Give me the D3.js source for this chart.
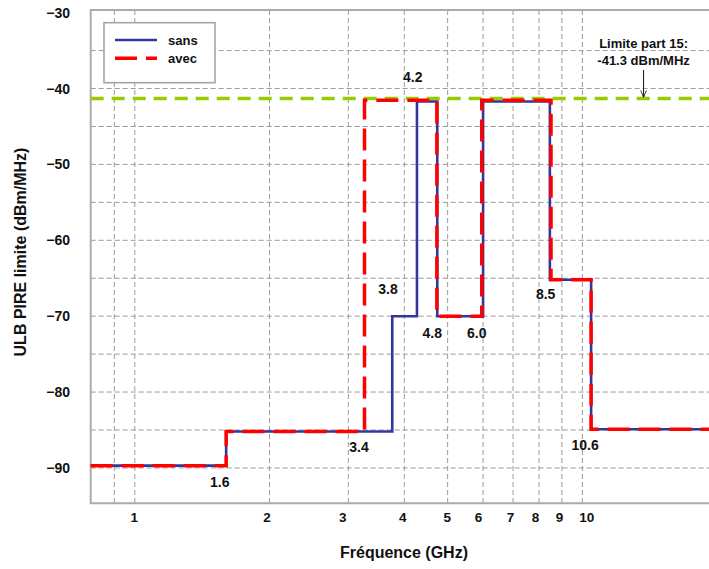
<!DOCTYPE html>
<html><head><meta charset="utf-8">
<script src="https://cdn.jsdelivr.net/npm/d3@7/dist/d3.min.js"></script>
<style>
body{margin:0;background:#fff}
text{font-family:"Liberation Sans",Arial,sans-serif;font-weight:bold;fill:#111}
</style>
</head><body>
<svg id="chart" width="709" height="569"></svg>
<script>
// ---------- data ----------
const freqDomain = [0.797, 20.3];            // GHz (log axis)
const levelDomain = [-94.66, -29.65];        // dBm/MHz
const freqTicks = [1, 2, 3, 4, 5, 6, 7, 8, 9, 10];
const freqGrid = [0.9, 1, 2, 3, 4, 5, 6, 7, 8, 9, 10];
const levelTicks = [-30, -40, -50, -60, -70, -80, -90];
const levelGrid = [-35, -40, -45, -50, -55, -60, -65, -70, -75, -80, -85, -90];

// step edges (GHz) and levels (dBm/MHz)
const sansEdges  = [0.797, 1.6, 3.76, 4.27, 4.74, 6.0, 8.46, 10.46, 20.3];
const sansLevels = [-89.7, -85.2, -70, -41.7, -70, -41.7, -65.2, -84.9];
const avecEdges  = [0.797, 1.6, 3.26, 4.73, 5.96, 8.51, 10.46, 20.3];
const avecLevels = [-89.7, -85.2, -41.55, -70, -41.55, -65.2, -84.9];

const limitLevel = -41.3;
const seriesNames = ["sans", "avec"];

const edgeLabelText  = ["1.6", "3.4", "3.8", "4.2", "4.8", "6.0", "8.5", "10.6"];
const edgeLabelFreq  = [1.548, 3.17, 3.678, 4.18, 4.62, 5.81, 8.28, 10.14];
const edgeLabelLevel = [-91.8, -87.2, -66.45, -38.5, -72.2, -72.2, -67.1, -86.97];

const limitNote = ["Limite part 15:", "-41.3 dBm/MHz"];
const limitNoteFreq = 13.7;
const limitNoteLevel = [-34.04, -36.33];
const arrowFromLevel = -37.56;

// ---------- layout ----------
const svg = d3.select("#chart");
const plotLeft = 90.7, plotTop = 10, plotBottom = 503.3, plotRight = 720;
// small hand-placement offsets of the x tick labels in the original figure (px)
const xLabelNudge = [-1, -3, -6, -2, -1, -5, -3, -4, -3, 4];

const x = d3.scaleLog().domain(freqDomain).range([plotLeft, plotRight]);
const y = d3.scaleLinear().domain(levelDomain).range([plotBottom, plotTop]);

svg.append("rect").attr("width", 709).attr("height", 569).attr("fill", "#fff");

// grid
const grid = svg.append("g").attr("stroke", "#9a9a9a").attr("stroke-width", 1)
  .attr("stroke-dasharray", "5,3").attr("fill", "none");
grid.selectAll("line.h").data(levelGrid).join("line").attr("class", "h")
  .attr("x1", plotLeft).attr("x2", plotRight)
  .attr("y1", d => y(d)).attr("y2", d => y(d));
grid.selectAll("line.v").data(freqGrid).join("line").attr("class", "v")
  .attr("x1", d => x(d)).attr("x2", d => x(d))
  .attr("y1", plotTop).attr("y2", plotBottom);

// frame
svg.append("path")
  .attr("d", `M${plotRight},${plotTop}H${plotLeft}V${plotBottom}H${plotRight}`)
  .attr("fill", "none").attr("stroke", "#ababab").attr("stroke-width", 2);

// limit line
svg.append("line")
  .attr("x1", plotLeft).attr("x2", plotRight)
  .attr("y1", y(limitLevel)).attr("y2", y(limitLevel))
  .attr("stroke", "#99cc00").attr("stroke-width", 3.5).attr("stroke-dasharray", "13,8");

// step lines
function stepPoints(edges, levels) {
  return edges.map((e, i) => [e, levels[Math.min(i, levels.length - 1)]]);
}
const line = d3.line().x(d => x(d[0])).y(d => y(d[1])).curve(d3.curveStepAfter);

svg.append("path").datum(stepPoints(sansEdges, sansLevels))
  .attr("d", line).attr("fill", "none")
  .attr("stroke", "#35359c").attr("stroke-width", 2.6);
svg.append("path").datum(stepPoints(avecEdges, avecLevels))
  .attr("d", line).attr("fill", "none")
  .attr("stroke", "#ff0000").attr("stroke-width", 3.5).attr("stroke-dasharray", "22,9");

// axes
const xAxis = svg.append("g").attr("transform", `translate(0,${plotBottom})`)
  .call(d3.axisBottom(x).tickValues(freqTicks).tickFormat(d3.format("d")).tickSize(0).tickPadding(9.5));
xAxis.select(".domain").remove();
xAxis.selectAll("text").attr("font-size", 13.5).attr("font-family", null).style("fill", "#111")
  .attr("dx", (d, i) => xLabelNudge[i]);

const yAxis = svg.append("g").attr("transform", `translate(${plotLeft},0)`)
  .call(d3.axisLeft(y).tickValues(levelTicks).tickFormat(d3.format("d")).tickSize(0).tickPadding(20.7));
yAxis.select(".domain").remove();
yAxis.selectAll("text").attr("font-size", 14).attr("font-family", null).style("fill", "#111");

// axis titles
svg.append("text").attr("x", 404).attr("y", 558).attr("text-anchor", "middle")
  .attr("font-size", 16).text("Fréquence (GHz)");
svg.append("text").attr("transform", "translate(26,252) rotate(-90)")
  .attr("text-anchor", "middle").attr("font-size", 16).text("ULB PIRE limite (dBm/MHz)");

// edge labels
svg.selectAll("text.edge").data(edgeLabelText).join("text").attr("class", "edge")
  .attr("x", (d, i) => x(edgeLabelFreq[i]))
  .attr("y", (d, i) => y(edgeLabelLevel[i]) + 5)
  .attr("text-anchor", "middle").attr("font-size", 14).text(d => d);

// limit note + arrow
svg.selectAll("text.note").data(limitNote).join("text").attr("class", "note")
  .attr("x", x(limitNoteFreq)).attr("y", (d, i) => y(limitNoteLevel[i]) + 4.5)
  .attr("text-anchor", "middle").attr("font-size", 13).text(d => d);

const defs = svg.append("defs");
defs.append("marker").attr("id", "arr").attr("viewBox", "0 0 10 10")
  .attr("refX", 10).attr("refY", 5).attr("markerWidth", 7).attr("markerHeight", 7)
  .attr("orient", "auto").attr("markerUnits", "userSpaceOnUse")
  .append("path").attr("d", "M0,1L10,5L0,9").attr("fill", "none").attr("stroke", "#111").attr("stroke-width", 1.2);
svg.append("line")
  .attr("x1", x(limitNoteFreq)).attr("x2", x(limitNoteFreq))
  .attr("y1", y(arrowFromLevel)).attr("y2", y(limitLevel) - 1)
  .attr("stroke", "#111").attr("stroke-width", 1).attr("marker-end", "url(#arr)");

// legend
const lg = svg.append("g");
lg.append("rect").attr("x", 104).attr("y", 22.7).attr("width", 111).attr("height", 60)
  .attr("fill", "#fff").attr("stroke", "#a5a5a5").attr("stroke-width", 1.6);
const legendStyles = [
  {stroke: "#35359c", w: 2.6, dash: null},
  {stroke: "#ff0000", w: 3.5, dash: "22,9"}
];
seriesNames.forEach((name, i) => {
  const yy = 40 + i * 18.3;
  lg.append("line").attr("x1", 115).attr("x2", 157).attr("y1", yy).attr("y2", yy)
    .attr("stroke", legendStyles[i].stroke).attr("stroke-width", legendStyles[i].w)
    .attr("stroke-dasharray", legendStyles[i].dash);
  lg.append("text").attr("x", 168).attr("y", yy + 4.8).attr("font-size", 13).text(name);
});
</script>
</body></html>
